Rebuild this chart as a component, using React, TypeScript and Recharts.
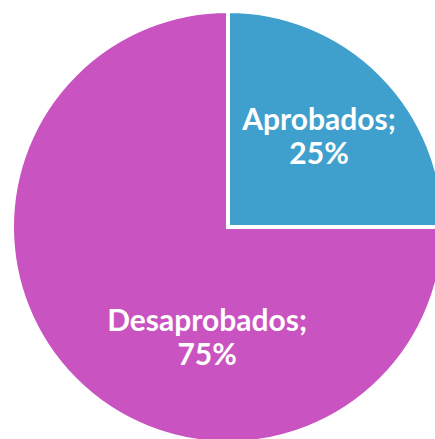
import React from "react";
import { PieChart, Pie, Cell } from "recharts";

const categories = ["Aprobados", "Desaprobados"];
const values = [25, 75];
const colors = ["#3FA0CD", "#C953C0"];

const data = categories.map((name, i) => ({ name, value: values[i] }));

const RAD = Math.PI / 180;

const renderLabel = (props: any) => {
  const { cx, cy, outerRadius, index, name, percent } = props;
  // Excel-like "best fit" placement: angle (deg) and radius factor per slice
  const placement = index === 0 ? { a: 41.3, f: 0.561 } : { a: -99.8, f: 0.569 };
  const r = outerRadius * placement.f;
  const x = cx + r * Math.cos(-placement.a * RAD);
  const y = cy + r * Math.sin(-placement.a * RAD);
  return (
    <text
      x={x}
      y={y}
      fill="#FFFFFF"
      textAnchor="middle"
      fontFamily="Lato, 'Open Sans', sans-serif"
      fontWeight={700}
      fontSize={30}
    >
      <tspan x={x} y={y - 17}>{`${name};`}</tspan>
      <tspan x={x} y={y + 17}>{`${Math.round(percent * 100)}%`}</tspan>
    </text>
  );
};

export default function App() {
  return (
    <div style={{ position: "absolute", left: 0, top: 0, width: 435, height: 439, background: "#fff" }}>
      <PieChart width={435} height={439} margin={{ top: 0, right: 0, bottom: 0, left: 0 }}>
        <Pie
          data={data}
          dataKey="value"
          nameKey="name"
          cx={228}
          cy={227}
          outerRadius={216}
          startAngle={90}
          endAngle={-270}
          stroke="#FFFFFF"
          strokeWidth={4}
          label={renderLabel}
          labelLine={false}
          isAnimationActive={false}
        >
          {data.map((d, i) => (
            <Cell key={d.name} fill={colors[i]} />
          ))}
        </Pie>
      </PieChart>
    </div>
  );
}
